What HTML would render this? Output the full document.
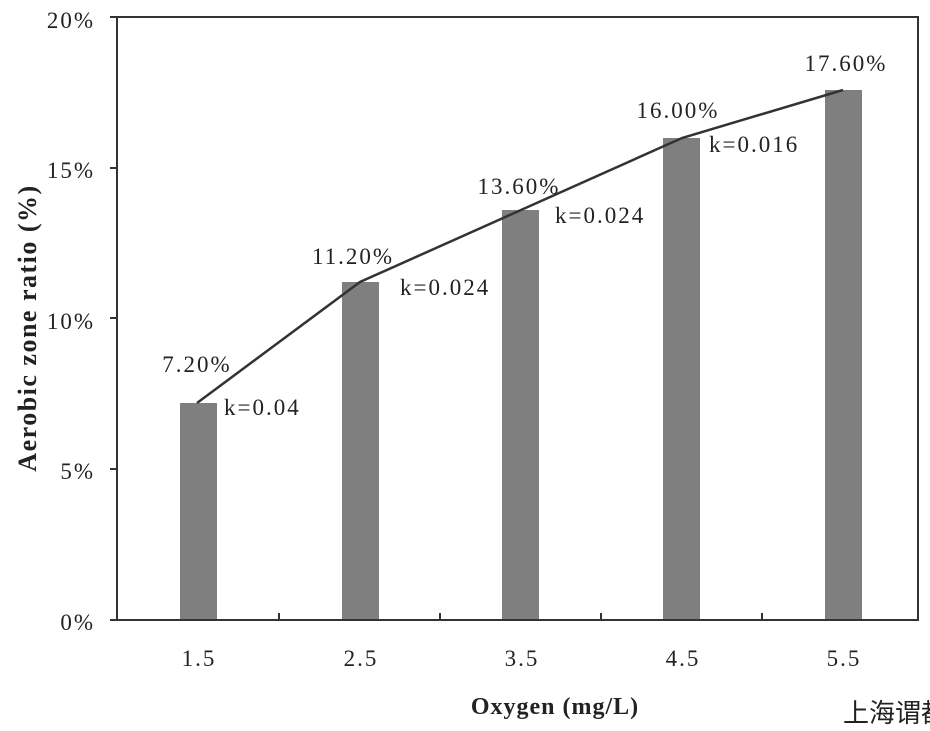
<!DOCTYPE html>
<html><head><meta charset="utf-8"><style>
body{margin:0;background:#fff;}
svg text{font-family:"Liberation Serif",serif;fill:#222;}
.n{letter-spacing:2px;}
</style></head><body>
<svg width="930" height="726" xmlns="http://www.w3.org/2000/svg">
<rect width="930" height="726" fill="#fff"/>
<g fill="#7f7f7f">
<rect x="180" y="403" width="37" height="217"/>
<rect x="342" y="282" width="37" height="338"/>
<rect x="502" y="210" width="37" height="410"/>
<rect x="663" y="138" width="37" height="482"/>
<rect x="825" y="90" width="37" height="530"/>
</g>
<path d="M117 17 H918 V620 H117 Z" fill="none" stroke="#333" stroke-width="2"/>
<g stroke="#333" stroke-width="2">
<line x1="110" y1="17" x2="117" y2="17"/>
<line x1="110" y1="168" x2="117" y2="168"/>
<line x1="110" y1="318" x2="117" y2="318"/>
<line x1="110" y1="469" x2="117" y2="469"/>
<line x1="110" y1="620" x2="117" y2="620"/>
<line x1="279" y1="613" x2="279" y2="620"/>
<line x1="440" y1="613" x2="440" y2="620"/>
<line x1="601" y1="613" x2="601" y2="620"/>
<line x1="762" y1="613" x2="762" y2="620"/>
</g>
<polyline points="197,403 360,282 521,210 682,138 843,90" fill="none" stroke="#333" stroke-width="2.5"/>
<g font-size="23" text-anchor="end" class="n">
<text x="95" y="28">20%</text>
<text x="95" y="178">15%</text>
<text x="95" y="329">10%</text>
<text x="95" y="479">5%</text>
<text x="95" y="630">0%</text>
</g>
<g font-size="23" text-anchor="middle" class="n">
<text x="199" y="666">1.5</text>
<text x="361" y="666">2.5</text>
<text x="522" y="666">3.5</text>
<text x="683" y="666">4.5</text>
<text x="844" y="666">5.5</text>
<text x="197" y="372">7.20%</text>
<text x="353" y="264">11.20%</text>
<text x="519" y="194">13.60%</text>
<text x="678" y="118">16.00%</text>
<text x="846" y="71">17.60%</text>
</g>
<g font-size="23" class="n">
<text x="224" y="415">k=0.04</text>
<text x="400" y="295">k=0.024</text>
<text x="555" y="223">k=0.024</text>
<text x="709" y="152">k=0.016</text>
</g>
<text x="555" y="714" font-size="24" font-weight="bold" text-anchor="middle" letter-spacing="1">Oxygen (mg/L)</text>
<text transform="translate(36,328) rotate(-90)" font-size="26" font-weight="bold" text-anchor="middle" letter-spacing="1.5">Aerobic zone ratio (%)</text>
<text x="843" y="722" font-size="26" style="font-family:'Noto Sans CJK SC',sans-serif" fill="#111">上海谓都</text>
</svg>
</body></html>
